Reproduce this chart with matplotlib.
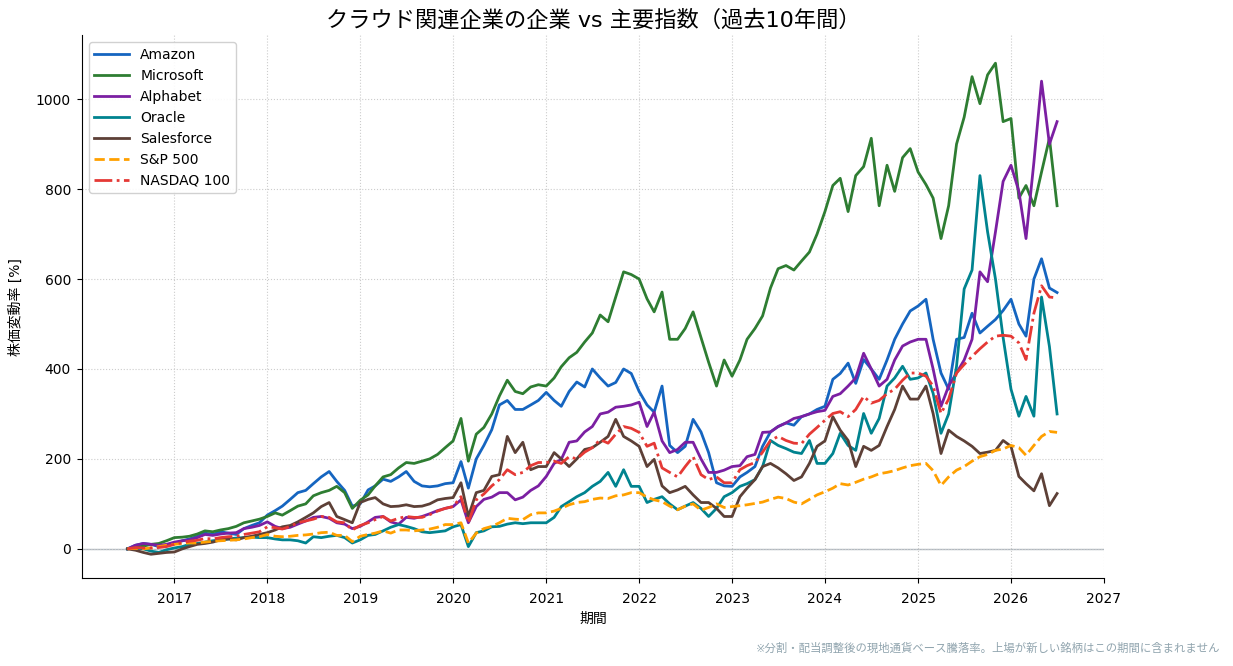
import matplotlib
matplotlib.use("Agg")
import matplotlib.pyplot as plt
import matplotlib.dates as mdates
import pandas as pd

plt.rcParams['font.family'] = ['DejaVu Sans', 'Noto Sans CJK JP']

dates = pd.date_range('2016-07-01', periods=121, freq='MS')

amazon = [0, 8, 12, 10, 5, 8,
          12, 18, 22, 28, 35, 32, 38, 35, 32, 45, 52, 58,
          75, 85, 95, 110, 125, 130, 145, 160, 172, 150, 130, 95,
          100, 131, 140, 155, 150, 160, 172, 150, 140, 138, 140, 145,
          147, 194, 135, 200, 230, 265, 320, 330, 310, 310, 320, 330,
          348, 330, 317, 350, 371, 360, 400, 380, 362, 370, 400, 390,
          350, 320, 304, 362, 230, 214, 228, 288, 260, 214, 147, 140,
          139, 160, 170, 183, 228, 260, 272, 280, 275, 294, 300, 310,
          317, 377, 390, 413, 368, 421, 400, 377, 420, 466, 500, 529,
          540, 555, 466, 391, 355, 466, 470, 524, 480, 495, 510, 530,
          555, 500, 473, 600, 645, 580, 570]

microsoft = [0, 4, 6, 10, 12, 18,
             25, 26, 28, 33, 40, 38, 42, 45, 50, 58, 62, 66,
             72, 80, 75, 85, 95, 100, 118, 125, 130, 139, 125, 90,
             108, 120, 140, 160, 165, 180, 192, 190, 195, 200, 210, 225,
             240, 290, 195, 255, 270, 300, 340, 375, 350, 345, 360, 365,
             362, 380, 405, 425, 437, 460, 480, 520, 505, 560, 616, 610,
             600, 556, 527, 571, 466, 466, 490, 527, 470, 415, 362, 420,
             384, 420, 466, 490, 518, 580, 623, 630, 620, 640, 660, 700,
             750, 808, 824, 750, 830, 850, 913, 763, 853, 795, 870, 890,
             838, 810, 780, 690, 763, 900, 960, 1050, 990, 1054, 1080, 950,
             957, 780, 808, 763, 838, 913, 763]

alphabet = [0, 8, 12, 10, 8, 10,
            15, 18, 20, 25, 32, 30, 33, 35, 36, 45, 48, 52,
            60, 50, 45, 48, 55, 62, 70, 72, 68, 58, 55, 45,
            50, 60, 70, 72, 60, 55, 70, 68, 72, 78, 85, 90,
            94, 109, 58, 94, 110, 115, 125, 125, 109, 115, 130, 140,
            161, 190, 199, 237, 240, 260, 272, 300, 304, 315, 317, 320,
            326, 272, 304, 240, 214, 221, 237, 237, 200, 170, 170, 175,
            183, 185, 205, 210, 259, 260, 272, 280, 290, 294, 300, 305,
            308, 339, 345, 362, 380, 435, 400, 362, 377, 420, 451, 460,
            466, 466, 400, 317, 362, 391, 420, 466, 616, 594, 705, 817,
            853, 795, 690, 860, 1040, 900, 950]

oracle = [0, 2, 0, -5, -8, -2,
          2, 5, 10, 12, 15, 18, 20, 22, 24, 25, 26, 25,
          25, 22, 20, 20, 18, 13, 27, 25, 28, 30, 25, 13,
          20, 30, 32, 40, 48, 54, 50, 45, 38, 36, 38, 40,
          49, 54, 5, 36, 40, 49, 50, 55, 58, 56, 58, 58,
          58, 70, 94, 105, 116, 125, 139, 150, 170, 139, 176, 139,
          139, 103, 110, 116, 100, 87, 95, 103, 90, 72, 90, 116,
          125, 139, 145, 154, 183, 241, 230, 223, 215, 212, 241, 190,
          190, 212, 257, 230, 219, 301, 257, 290, 362, 380, 406, 377,
          380, 391, 346, 257, 300, 406, 578, 620, 830, 705, 600, 470,
          355, 295, 339, 295, 560, 450, 300]

salesforce = [0, -3, -8, -12, -10, -8,
              -7, 0, 5, 10, 12, 15, 20, 22, 20, 25, 28, 32,
              36, 42, 49, 52, 60, 70, 80, 94, 103, 72, 65, 58,
              103, 110, 114, 100, 94, 95, 98, 94, 95, 100, 109, 112,
              114, 147, 72, 125, 130, 161, 165, 250, 214, 237, 176, 183,
              183, 214, 200, 183, 200, 221, 225, 237, 250, 288, 250, 240,
              228, 183, 199, 140, 125, 131, 139, 120, 103, 103, 90, 72,
              72, 116, 135, 154, 183, 190, 180, 167, 152, 160, 190, 228,
              240, 294, 264, 241, 183, 228, 219, 230, 272, 310, 362, 333,
              333, 362, 301, 212, 264, 250, 240, 228, 212, 215, 219, 241,
              228, 161, 145, 129, 167, 96, 123]

sp500 = [0, 1, 0, 2, 5, 8,
         10, 12, 13, 13, 15, 17, 18, 19, 20, 22, 25, 27,
         32, 28, 27, 28, 30, 31, 33, 36, 37, 30, 30, 16,
         28, 32, 35, 40, 35, 42, 42, 40, 42, 44, 48, 54,
         54, 58, 13, 35, 45, 50, 58, 68, 66, 65, 76, 80,
         80, 84, 90, 98, 103, 105, 110, 113, 112, 118, 120, 125,
         125, 115, 109, 105, 95, 87, 95, 100, 86, 92, 100, 92,
         94, 96, 98, 101, 104, 110, 115, 112, 104, 100, 110, 120,
         127, 135, 145, 142, 148, 155, 160, 167, 170, 174, 180, 185,
         188, 190, 174, 141, 160, 175, 183, 195, 205, 210, 219, 222,
         230, 225, 208, 230, 250, 261, 259]

nasdaq100 = [0, 3, 2, 2, 3, 5,
             10, 14, 17, 19, 23, 22, 25, 27, 28, 32, 35, 38,
             49, 47, 44, 50, 58, 62, 66, 72, 70, 60, 58, 42,
             52, 58, 65, 72, 62, 68, 72, 70, 70, 76, 84, 90,
             94, 116, 58, 109, 122, 140, 154, 176, 165, 170, 185, 192,
             192, 195, 190, 205, 200, 215, 225, 243, 235, 255, 272, 268,
             259, 228, 235, 180, 170, 160, 183, 205, 165, 154, 160, 147,
             147, 176, 185, 192, 215, 241, 250, 241, 235, 234, 255, 270,
             286, 301, 305, 294, 310, 339, 324, 330, 345, 355, 375, 391,
             391, 384, 362, 301, 333, 391, 410, 428, 445, 460, 473, 475,
             473, 458, 421, 524, 585, 560, 558]

series_names = ['Amazon', 'Microsoft', 'Alphabet', 'Oracle', 'Salesforce', 'S&P 500', 'NASDAQ 100']
series_values = [amazon, microsoft, alphabet, oracle, salesforce, sp500, nasdaq100]
colors = ['#1565C0', '#2E7D32', '#7B1FA2', '#00838F', '#5D4037', '#FFA000', '#E53935']
styles = ['-', '-', '-', '-', '-', '--', '-.']

fig = plt.figure(figsize=(12.33, 6.66), dpi=100)
ax = fig.add_axes([0.0665, 0.132, 0.829, 0.815])

ax.axhline(0, color='#B0B8C0', lw=1.0, zorder=1)
for name, vals, c, ls in zip(series_names, series_values, colors, styles):
    ax.plot(dates, vals, color=c, ls=ls, lw=2.0, label=name, zorder=2)

ax.set_xlim(pd.Timestamp('2016-01-04'), pd.Timestamp('2027-01-02'))
ax.set_ylim(-65, 1142)
ax.xaxis.set_major_locator(mdates.YearLocator())
ax.xaxis.set_major_formatter(mdates.DateFormatter('%Y'))
ax.grid(True, ls=':', color='#CCCCCC', lw=0.8)
ax.spines['top'].set_visible(False)
ax.spines['right'].set_visible(False)
ax.tick_params(axis='x', labelsize=10, pad=6.8)
ax.tick_params(axis='y', labelsize=10, pad=4.5)

ax.set_title('クラウド関連企業の企業 vs 主要指数（過去10年間）', fontsize=16, pad=6)
ax.set_xlabel('期間', fontsize=10, labelpad=4)
ax.set_ylabel('株価変動率 [%]', fontsize=10, labelpad=9)
ax.legend(loc='upper left', fontsize=10, framealpha=0.9, handlelength=2.5)

fig.text(0.99, 0.018, '※分割・配当調整後の現地通貨ベース騰落率。上場が新しい銘柄はこの期間に含まれません',
         ha='right', va='bottom', fontsize=8.2, color='#90A4AE')

fig.savefig('out.png', dpi=100)
